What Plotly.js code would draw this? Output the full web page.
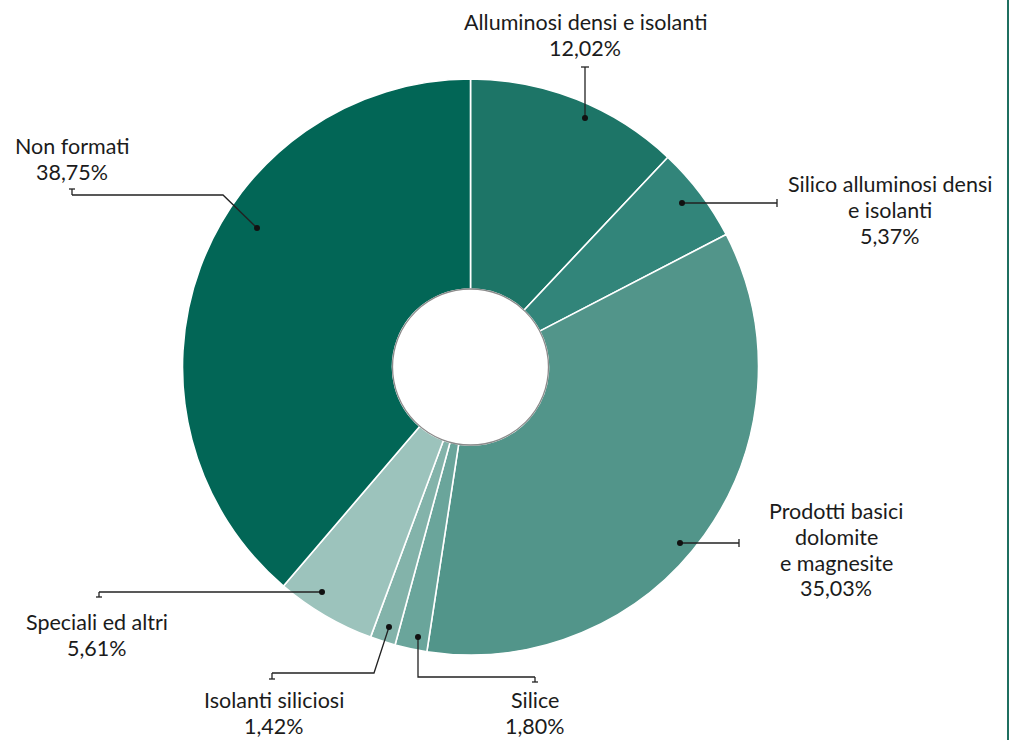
<!DOCTYPE html>
<html>
<head>
<meta charset="utf-8">
<script src="https://cdn.plot.ly/plotly-3.0.1.min.js"></script>
<style>
html,body{margin:0;padding:0;background:#fff;}
#chart{width:1011px;height:740px;}
</style>
</head>
<body>
<div id="chart"></div>
<script>
// ---- data ----
const categories = [
  "Alluminosi densi e isolanti",
  "Silico alluminosi densi e isolanti",
  "Prodotti basici dolomite e magnesite",
  "Silice",
  "Isolanti siliciosi",
  "Speciali ed altri",
  "Non formati"
];
const values = [12.02, 5.37, 35.03, 1.80, 1.42, 5.61, 38.75];
// label lines (name part, split as in the reference)
const labelLines = [
  ["Alluminosi densi e isolanti"],
  ["Silico alluminosi densi", "e isolanti"],
  ["Prodotti basici", "dolomite", "e magnesite"],
  ["Silice"],
  ["Isolanti siliciosi"],
  ["Speciali ed altri"],
  ["Non formati"]
];
const sliceColors = ["#1d7567", "#32857a", "#52958a", "#6aa59b", "#83b3aa", "#9cc3bc", "#026656"];

// ---- layout helpers (pixel geometry) ----
const W = 1011, H = 740;
const px = x => x / W;
const py = y => 1 - y / H;
const CX = 470.5, CY = 367, R = 288, HOLE = 78;

// label placement: text center x, first line center y, leader path (dot first), end cap
const labelLayout = [
  {tx: 585, ty: 22, path: [[585,118],[585,67]], cap: {x0:581,y0:67,x1:589,y1:67}},
  {tx: 890, ty: 184, path: [[682,203],[777,203]], cap: {x0:777,y0:199,x1:777,y1:207}},
  {tx: 836, ty: 511, path: [[680,543],[739,543]], cap: {x0:739,y0:539,x1:739,y1:547}},
  {tx: 535, ty: 700, lh: 26, path: [[418,637],[418,677],[535,677]], cap: {x0:535,y0:677,x1:535,y1:682}, bar: {x0:532,y0:682,x1:538,y1:682}},
  {tx: 274, ty: 700, lh: 26, path: [[389,627],[374,673],[272,673]], cap: {x0:272,y0:673,x1:272,y1:679}, bar: {x0:269,y0:679,x1:275,y1:679}},
  {tx: 97, ty: 622, path: [[322,592],[99,592]], cap: {x0:99,y0:592,x1:99,y1:597}, bar: {x0:96,y0:597,x1:102,y1:597}},
  {tx: 72, ty: 146, path: [[257,228],[223,195],[72,195]], cap: {x0:72,y0:195,x1:72,y1:189}, bar: {x0:69,y0:189,x1:75,y1:189}}
];
const LINE_H = 25.8;
const fontFam = "Lato, 'Open Sans', sans-serif";
const textColor = "#1b1b1b";
const lineColor = "#222";

const trace = {
  type: "pie",
  labels: categories,
  values: values,
  sort: false,
  direction: "clockwise",
  rotation: 0,
  hole: HOLE / R,
  textinfo: "none",
  hoverinfo: "label+percent",
  marker: {colors: sliceColors, line: {color: "#ffffff", width: 1.6}},
  domain: {x: [px(CX - R), px(CX + R)], y: [py(CY + R), py(CY - R)]},
  showlegend: false
};

const annotations = [];
const shapes = [];
labelLayout.forEach((L, i) => {
  const pct = values[i].toFixed(2).replace(".", ",") + "%";
  const lines = labelLines[i].concat([pct]);
  const lh = L.lh || LINE_H;
  lines.forEach((t, k) => {
    annotations.push({
      xref: "paper", yref: "paper",
      x: px(L.tx), y: py(L.ty + k * lh),
      xanchor: "center", yanchor: "middle",
      text: t, showarrow: false, borderpad: 0,
      font: {family: fontFam, size: 21.5, color: textColor}
    });
  });
  // leader line
  let d = "";
  L.path.forEach((p, k) => { d += (k ? " L " : "M ") + px(p[0]) + "," + py(p[1]); });
  shapes.push({type: "path", xref: "paper", yref: "paper", path: d, line: {color: lineColor, width: 1.3}});
  shapes.push({type: "line", xref: "paper", yref: "paper",
    x0: px(L.cap.x0), y0: py(L.cap.y0), x1: px(L.cap.x1), y1: py(L.cap.y1),
    line: {color: lineColor, width: 1.3}});
  if (L.bar) {
    shapes.push({type: "line", xref: "paper", yref: "paper",
      x0: px(L.bar.x0), y0: py(L.bar.y0), x1: px(L.bar.x1), y1: py(L.bar.y1),
      line: {color: lineColor, width: 1.3}});
  }
  // dot
  const dp = L.path[0];
  shapes.push({type: "circle", xref: "paper", yref: "paper",
    x0: px(dp[0] - 3), x1: px(dp[0] + 3), y0: py(dp[1] + 3), y1: py(dp[1] - 3),
    fillcolor: "#111", line: {color: "#111", width: 0}});
});
// hole outline
shapes.push({type: "circle", xref: "paper", yref: "paper",
  x0: px(CX - HOLE), x1: px(CX + HOLE), y0: py(CY + HOLE), y1: py(CY - HOLE),
  fillcolor: "rgba(255,255,255,0)", line: {color: "#8a8a8a", width: 1.3}});
// right border rule
shapes.push({type: "line", xref: "paper", yref: "paper",
  x0: px(1008), x1: px(1008), y0: 0, y1: 1,
  line: {color: "#1f6f60", width: 2}});

const layout = {
  width: W, height: H,
  margin: {l: 0, r: 0, t: 0, b: 0},
  paper_bgcolor: "#ffffff",
  plot_bgcolor: "#ffffff",
  annotations: annotations,
  shapes: shapes,
  showlegend: false
};

Plotly.newPlot("chart", [trace], layout, {displayModeBar: false, staticPlot: true});
</script>
</body>
</html>
